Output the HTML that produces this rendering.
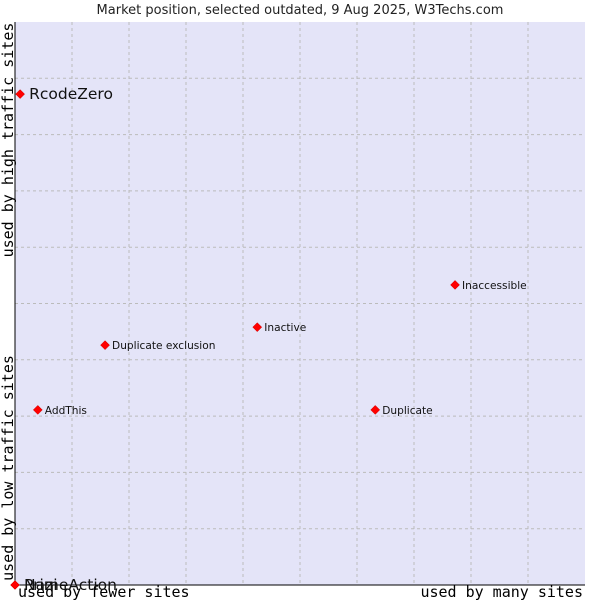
<!DOCTYPE html>
<html><head><meta charset="utf-8"><style>
body{margin:0;background:#fff;width:600px;height:600px;overflow:hidden}
svg text{font-family:"DejaVu Sans","Liberation Sans",sans-serif}
.mono{font-family:"DejaVu Sans Mono","Liberation Mono",monospace}
</style></head><body>
<svg id="c" width="600" height="600">
<text x="300" y="14" text-anchor="middle" font-size="13" fill="#222">Market position, selected outdated, 9 Aug 2025, W3Techs.com</text>
<rect x="15" y="22" width="570" height="563" fill="#e4e4f8"/>
<g id="grid"></g>
<line x1="15" y1="22" x2="15" y2="585" stroke="#000"/>
<line x1="15" y1="585" x2="585" y2="585" stroke="#000"/>
<text class="mono" transform="translate(13,140) rotate(-90)" text-anchor="middle" font-size="15">used by high traffic sites</text>
<text class="mono" transform="translate(13,468) rotate(-90)" text-anchor="middle" font-size="15">used by low traffic sites</text>
<text class="mono" x="18" y="597" font-size="15">used by fewer sites</text>
<text class="mono" x="583" y="597" text-anchor="end" font-size="15">used by many sites</text>
<g id="pts"></g>
</svg>
<script>
const names=["RcodeZero","Inaccessible","Inactive","Duplicate exclusion","AddThis","Duplicate","Nazi","PrimeAction"];
const xVals=[0.9,77.2,42.5,15.8,4,63.2,0,0];
const yVals=[87.2,53.3,45.8,42.6,31.1,31.1,0,0];
const bigLabel=[true,false,false,false,false,false,true,true];
const NS="http://www.w3.org/2000/svg";
const X=v=>15+v*5.7, Y=v=>585-v*5.63;
const grid=document.getElementById('grid');
for(let i=1;i<10;i++){
 const a=document.createElementNS(NS,'line');
 a.setAttribute('x1',X(i*10));a.setAttribute('x2',X(i*10));a.setAttribute('y1',22);a.setAttribute('y2',585);
 a.setAttribute('stroke','#bbb');a.setAttribute('stroke-dasharray','3,3');
 
 
 grid.appendChild(a);
 const b=document.createElementNS(NS,'line');
 b.setAttribute('y1',Y(i*10));b.setAttribute('y2',Y(i*10));b.setAttribute('x1',15);b.setAttribute('x2',585);
 b.setAttribute('stroke','#bbb');b.setAttribute('stroke-dasharray','3,3');
 
 
 grid.appendChild(b);
}
const pts=document.getElementById('pts');
names.forEach((n,i)=>{
 const cx=X(xVals[i]),cy=Y(yVals[i]);
 const p=document.createElementNS(NS,'path');
 p.setAttribute('d',`M${cx-4.5},${cy}L${cx},${cy-4.5}L${cx+4.5},${cy}L${cx},${cy+4.5}Z`);
 p.setAttribute('fill','#f00');p.setAttribute('stroke','#c00');p.setAttribute('stroke-width','0.5');
 
 
 pts.appendChild(p);
 const t=document.createElementNS(NS,'text');
 t.setAttribute('x',cx+(bigLabel[i]?9:7));t.setAttribute('y',cy+(bigLabel[i]?5:4));
 t.setAttribute('font-size',bigLabel[i]?'15.5':'10.6');
 t.setAttribute('fill','#111');
 t.textContent=n;
 
 
 pts.appendChild(t);
});
</script>
</body></html>
